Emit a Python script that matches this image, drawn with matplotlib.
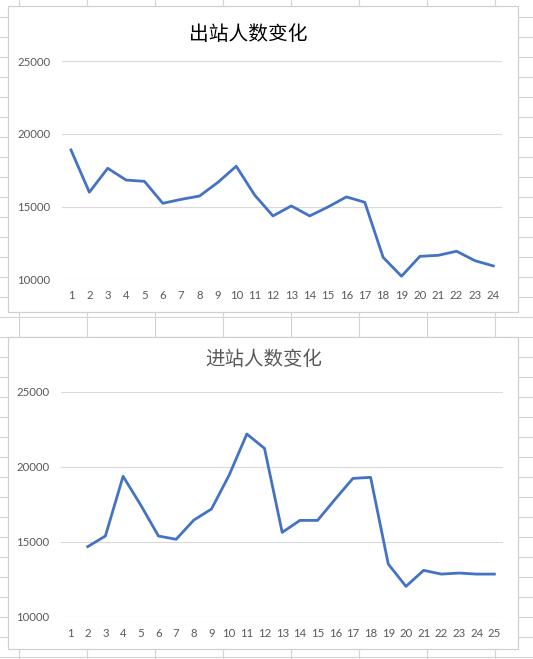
import numpy as np
import matplotlib
matplotlib.use("Agg")
import matplotlib.pyplot as plt
from matplotlib.patches import Rectangle

plt.rcParams['font.family'] = ['Lato', 'DejaVu Sans']

# data
out_title = '出站人数变化'
out_days = list(range(1, 25))
out_vals = [18900, 15990, 17640, 16830, 16740, 15230, 15500, 15730, 16670, 17780,
            15800, 14360, 15050, 14360, 14980, 15670, 15300, 11510, 10210, 11580,
            11650, 11930, 11280, 10920]

in_title = '进站人数变化'
in_days = list(range(1, 26))
in_vals = [np.nan, 14670, 15380, 19360, 17440, 15380, 15160, 16440, 17180, 19440,
           22180, 21220, 15620, 16420, 16420, 17840, 19220, 19290, 13510, 12020,
           13090, 12840, 12910, 12840, 12840]

y_ticks = [10000, 15000, 20000, 25000]

W, H = 533, 659
line_c = '#4472C4'
grid_c = '#D9D9D9'
txt_c = '#595959'

fig = plt.figure(figsize=(W / 100, H / 100), dpi=100)
fig.patch.set_facecolor('white')

# background: the spreadsheet cells
bg = fig.add_axes([0, 0, 1, 1])
bg.set_xlim(0, W)
bg.set_ylim(H, 0)
bg.axis('off')
for xv in np.arange(19.3, W, 68):
    bg.plot([xv, xv], [0, H], color='#D4D4D4', lw=0.8)
for yv in np.arange(17.3, H, 20):
    bg.plot([0, W], [yv, yv], color='#D4D4D4', lw=0.8)

# chart boxes
for (x0, y0, x1, y1) in [(8.3, 6, 518.3, 311.7), (8.3, 336.5, 518.3, 649)]:
    bg.add_patch(Rectangle((x0, y0), x1 - x0, y1 - y0, facecolor='white',
                           edgecolor='#D0D0D0', lw=0.9, zorder=3))

bg.text(248, 34, out_title, ha='center', va='center', fontsize=14.2,
        color='black', family=['Noto Sans CJK SC', 'DejaVu Sans'], zorder=4)
bg.text(263.5, 359.5, in_title, ha='center', va='center', fontsize=14,
        color=txt_c, family=['Noto Sans CJK SC', 'DejaVu Sans'], zorder=4)


def style(ax, n):
    ax.set_facecolor('none')
    ax.set_xlim(0.5, n + 0.5)
    ax.set_ylim(10000, 25000)
    ax.set_yticks(y_ticks)
    ax.set_xticks(range(1, n + 1))
    ax.grid(axis='y', color=grid_c, lw=0.8)
    ax.set_axisbelow(True)
    for s in ax.spines.values():
        s.set_visible(False)
    ax.tick_params(axis='both', length=0, labelsize=8.2, labelcolor=txt_c)
    ax.tick_params(axis='y', pad=8.3)
    ax.tick_params(axis='x', pad=8.0)


ax1 = fig.add_axes([61.8 / W, 1 - 279.3 / H, 440.7 / W, 218 / H])
ax1.plot(out_days, out_vals, color=line_c, lw=2.0, solid_joinstyle='round')
style(ax1, len(out_days))

ax2 = fig.add_axes([61.2 / W, 1 - 616.7 / H, 442 / W, 225 / H])
ax2.plot(in_days, in_vals, color=line_c, lw=2.0, solid_joinstyle='round')
style(ax2, len(in_days))

fig.savefig('out.png', dpi=100)
